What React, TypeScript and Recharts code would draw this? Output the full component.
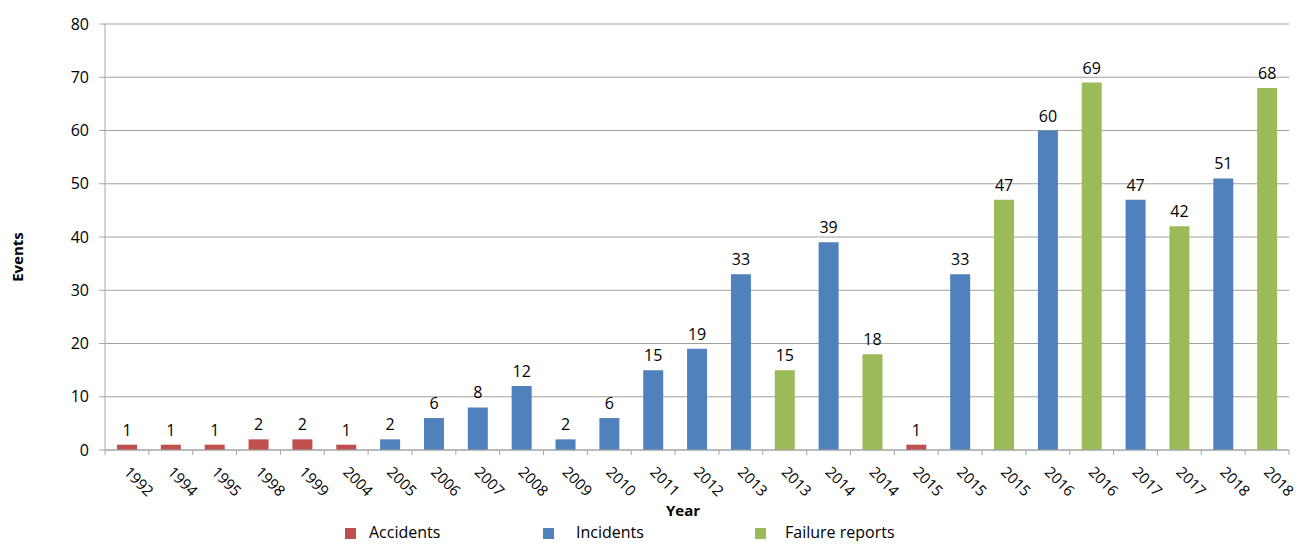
import React from 'react';
import { BarChart, Bar, XAxis, YAxis, CartesianGrid, Cell, LabelList, Label } from 'recharts';

const years = [
  '1992', '1994', '1995', '1998', '1999', '2004', '2005', '2006', '2007', '2008',
  '2009', '2010', '2011', '2012', '2013', '2013', '2014', '2014', '2015', '2015',
  '2015', '2016', '2016', '2017', '2017', '2018', '2018',
];
const types = [
  'Accidents', 'Accidents', 'Accidents', 'Accidents', 'Accidents', 'Accidents',
  'Incidents', 'Incidents', 'Incidents', 'Incidents', 'Incidents', 'Incidents',
  'Incidents', 'Incidents', 'Incidents', 'Failure reports', 'Incidents', 'Failure reports',
  'Accidents', 'Incidents', 'Failure reports', 'Incidents', 'Failure reports',
  'Incidents', 'Failure reports', 'Incidents', 'Failure reports',
];
const values = [1, 1, 1, 2, 2, 1, 2, 6, 8, 12, 2, 6, 15, 19, 33, 15, 39, 18, 1, 33, 47, 60, 69, 47, 42, 51, 68];
const yTicks = [0, 10, 20, 30, 40, 50, 60, 70, 80];
const seriesNames = ['Accidents', 'Incidents', 'Failure reports'];

const colors: Record<string, string> = {
  Accidents: '#C0504D',
  Incidents: '#4F81BD',
  'Failure reports': '#9BBB59',
};

const data = years.map((year, i) => ({ id: `${year}-${i}`, year, type: types[i], value: values[i] }));

const FONT = '"Open Sans", sans-serif';
const CHART_W = 1290;
const CHART_H = 533;
const MARGIN = { top: 16, right: 9, left: 0, bottom: 23 };
const Y_W = 97;
const STEP = (CHART_W - MARGIN.left - MARGIN.right - Y_W) / years.length;

const YearTick = (props: any) => {
  const { x, y, index } = props;
  const tx = x - 4;
  const ty = y + 23;
  return (
    <g>
      <line x1={x - STEP / 2} y1={y} x2={x - STEP / 2} y2={y + 5} stroke="#a6a6a6" />
      {index === years.length - 1 && (
        <line x1={x + STEP / 2} y1={y} x2={x + STEP / 2} y2={y + 5} stroke="#a6a6a6" />
      )}
      <text x={tx} y={ty} transform={`rotate(45, ${tx}, ${ty})`} textAnchor="start" fontSize={15} fill="#000" fontFamily={FONT}>
        {years[index]}
      </text>
    </g>
  );
};

const EventsLabel = (props: any) => {
  const { viewBox } = props;
  const x = viewBox.x + 15;
  const y = viewBox.y + viewBox.height / 2 + 20;
  return (
    <text x={x} y={y} transform={`rotate(-90, ${x}, ${y})`} textAnchor="middle" fontSize={15} fontWeight="bold" fill="#000" fontFamily={FONT}>
      Events
    </text>
  );
};

const legendPos = [
  { box: 337, text: 361 },
  { box: 535, text: 568 },
  { box: 747, text: 777 },
];

export default function App() {
  return (
    <div style={{ position: 'relative', width: CHART_W, height: CHART_H, fontFamily: FONT }}>
      <BarChart width={CHART_W} height={CHART_H} data={data} margin={MARGIN} barSize={20}>
        <CartesianGrid vertical={false} stroke="#a0a0a0" />
        <XAxis
          dataKey="id"
          height={68}
          interval={0}
          tickSize={0}
          tickMargin={0}
          tick={<YearTick />}
          stroke="#a6a6a6"
        >
          <Label value="Year" position="insideBottom" offset={2} dx={-14} fontSize={15} fontWeight="bold" fill="#000" fontFamily={FONT} />
        </XAxis>
        <YAxis
          width={Y_W}
          domain={[0, 80]}
          ticks={yTicks}
          interval={0}
          stroke="#a6a6a6"
          tickSize={6}
          tickMargin={10}
          tick={{ fill: '#000', fontSize: 16, fontFamily: FONT }}
        >
          <Label content={<EventsLabel />} />
        </YAxis>
        <Bar dataKey="value" isAnimationActive={false}>
          {data.map((d) => (
            <Cell key={d.id} fill={colors[d.type]} />
          ))}
          <LabelList dataKey="value" position="top" offset={9} fontSize={16} fill="#000" fontFamily={FONT} />
        </Bar>
      </BarChart>
      {seriesNames.map((name, i) => (
        <div key={name}>
          <div
            style={{
              position: 'absolute',
              left: legendPos[i].box,
              top: 520,
              width: 11,
              height: 11,
              background: colors[name],
            }}
          />
          <div
            style={{
              position: 'absolute',
              left: legendPos[i].text,
              top: 514,
              fontSize: 16,
              lineHeight: '20px',
              color: '#000',
              whiteSpace: 'nowrap',
            }}
          >
            {name}
          </div>
        </div>
      ))}
    </div>
  );
}
